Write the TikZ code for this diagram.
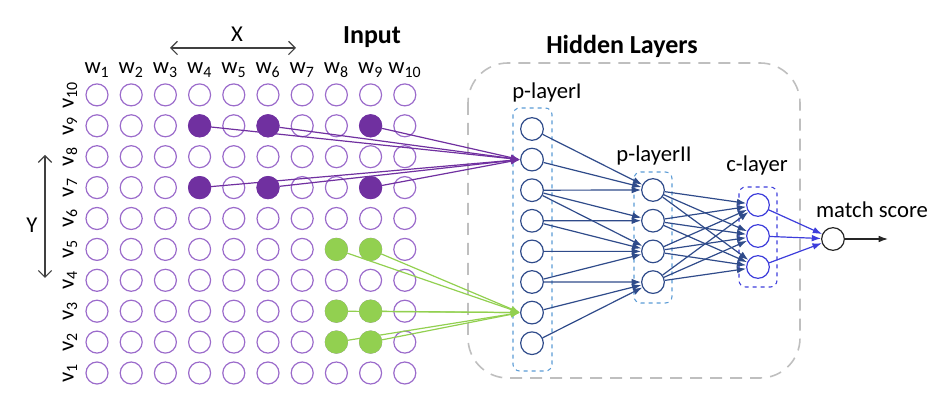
\documentclass[tikz,border=0pt]{standalone}
\usepackage{fontspec}
\setmainfont{Carlito}
\usetikzlibrary{arrows.meta}

\definecolor{gridpurple}{HTML}{9B6BCB}
\definecolor{darkpurple}{HTML}{7030A0}
\definecolor{leafgreen}{HTML}{92D050}
\definecolor{netblue}{HTML}{2F4B8A}
\definecolor{boxblue}{HTML}{5B9BD5}
\definecolor{clayblue}{HTML}{3D3DDB}
\definecolor{framegray}{HTML}{BFBFBF}

\tikzset{
  lbl/.style={inner sep=0.75pt, font=\fontsize{17}{20}\selectfont},
  title/.style={inner sep=0.75pt, font=\fontsize{19.5}{23}\selectfont\bfseries},
  cell/.style={circle, draw=gridpurple, line width=0.9pt, minimum size=16.5pt, inner sep=0pt},
  hotp/.style={cell, draw=darkpurple, fill=darkpurple},
  hotg/.style={cell, draw=leafgreen, fill=leafgreen},
  unit/.style={circle, draw=netblue, line width=0.9pt, minimum size=17pt, inner sep=0pt},
  cunit/.style={unit, draw=clayblue},
  layerbox/.style={draw=boxblue, dashed, line width=0.8pt, rounded corners=5pt},
  wire/.style={draw=netblue, line width=0.9pt, -{Latex[length=7pt,width=5pt]}},
}

\begin{document}
\begin{tikzpicture}[x=0.75pt,y=0.75pt,yscale=-1,xscale=1]
\useasboundingbox (0,0) rectangle (951,413);

%Input grid
\foreach \i in {1,...,10}{
  \node[lbl] (w\i) at ({97+34.2*(\i-1)},70) {w\textsubscript{\i}};
  \node[lbl, rotate=90] (v\i) at (70,{373-30.9*(\i-1)}) {v\textsubscript{\i}};
  \foreach \j in {1,...,10}
    \node[cell] (c\i-\j) at ({97+34.2*(\i-1)},{373-30.9*(\j-1)}) {};
}
\foreach \c in {4-9,6-9,9-9,4-7,6-7,9-7}
  \node[hotp] (p\c) at (c\c) {};
\foreach \c in {8-5,9-5,8-3,9-3,8-2,9-2}
  \node[hotg] (g\c) at (c\c) {};

% Text Node
\node[lbl] (xl) at (237,34) {X};
\node[lbl] (yl) at (32,225) {Y};
\node[title] (inp) at (372,37) {Input};
\node[title] (hid) at (622,46) {Hidden Layers};
\coordinate (xa) at (170,48);
\coordinate (xb) at (296,48);
\coordinate (ya) at (45,155);
\coordinate (yb) at (45,278);
\draw[black!75, line width=0.9pt, {Straight Barb[length=5pt]}-{Straight Barb[length=5pt]}] (xa) -- (xb);
\draw[black!75, line width=0.9pt, {Straight Barb[length=5pt]}-{Straight Barb[length=5pt]}] (ya) -- (yb);

%Hidden layers frame
\draw[framegray, line width=1.2pt, dash pattern=on 9pt off 6pt, rounded corners=30pt] (468,63) rectangle (800,378);
\draw[layerbox] (513,108) rectangle (552,371);
\draw[layerbox] (634,172) rectangle (672,303);
\draw[layerbox, draw=clayblue] (739,187) rectangle (777,287);

\node[lbl] (lp1) at (547,92) {p-layerI};
\node[lbl] (lp2) at (654,155) {p-layerII};
\node[lbl] (lc) at (757,165) {c-layer};
\node[lbl] (lm) at (872,210) {match score};

%Units
\foreach \i in {1,...,8}
  \node[unit] (h\i) at (532,{129+30.6*(\i-1)}) {};
\foreach \i in {1,...,4}
  \node[unit] (q\i) at (653,{190+30.7*(\i-1)}) {};
\foreach \i in {1,...,3}
  \node[cunit] (k\i) at (758,{205+31*(\i-1)}) {};
\node[unit, draw=black!85] (m) at (833,239) {};
\coordinate (out) at (888,239);

%Input wires
\foreach \c in {4-9,6-9,9-9,4-7,6-7,9-7}
  \draw[wire, draw=darkpurple] (p\c) -- (h2.west);
\foreach \c in {8-5,9-5,8-3,9-3,8-2,9-2}
  \draw[wire, draw=leafgreen] (g\c) -- (h7.west);

%p-layerI to p-layerII
\foreach \a/\b in {1/1,2/1,3/1,3/2,3/3,4/2,4/3,5/3,6/3,6/4,7/4,8/4}
  \draw[wire] (h\a) -- (q\b);
%p-layerII to c-layer
\foreach \a in {1,...,4}
  \foreach \b in {1,2,3}
    \draw[wire] (q\a) -- (k\b);
\foreach \b in {1,2,3}
  \draw[wire, draw=clayblue] (k\b) -- (m);
\draw[wire, draw=black!85] (m) -- (out);

\end{tikzpicture}
\end{document}
